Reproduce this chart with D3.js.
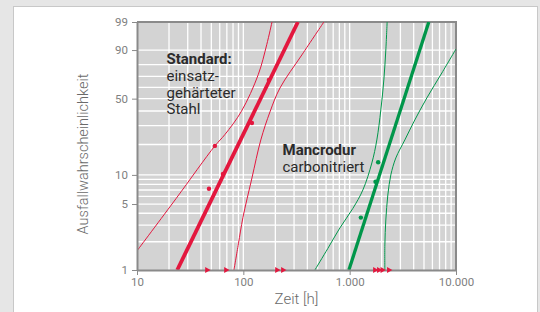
<!DOCTYPE html>
<html>
<head>
<meta charset="utf-8">
<script src="https://cdn.jsdelivr.net/npm/d3@7"></script>
<style>
  body { margin: 0; background: #e6e6e6; }
  svg { display: block; }
  text { font-family: Roboto, sans-serif; }
</style>
</head>
<body>
<svg id="chart" width="540" height="312"></svg>
<script>
// ticks: time in hours, failure probability in percent
const xTicks = [10, 100, 1000, 10000];
const xTickLabels = ['10', '100', '1.000', '10.000'];
const yTicks = [1, 5, 10, 50, 90, 99];
const yGrid = [2, 3, 4, 5, 6, 7, 8, 9, 10, 20, 30, 40, 50, 60, 70, 80, 90];

// standard, einsatzgehaerteter stahl  [hours, percent]
const stdFailures = [[47.5, 7.2], [54, 19.4], [64.3, 10.2], [120.5, 31.6], [174, 66.7]];
const stdFit = [[23.9, 1], [326, 99]];
const stdBoundLeft = [[10, 1.6], [23.3, 5.7], [54, 19.4], [67, 24.8], [96, 39.8], [138, 71.4], [166, 92.8], [186, 99]];
const stdBoundRight = [[81.6, 1], [89.9, 1.9], [99.1, 3.6], [120.5, 9.3], [146, 22.1], [178, 39.3], [221, 59.4], [355, 87], [572, 99]];
const stdSuspended = [45.5, 68.6, 207, 235.6];

// mancrodur, carbonitriert
const manFailures = [[1274, 3.6], [1750, 8.5], [1853, 13.4]];
const manFit = [[983, 1], [5549, 99]];
const manBoundLeft = [[471, 1], [624, 1.7], [809, 2.8], [1072, 4.5], [1331, 7], [1617, 13.2], [1801, 22.1], [1964, 40.8], [2096, 66.7], [2188, 90], [2251, 99]];
const manBoundRight = [[2143, 1], [2143, 1.85], [2188, 3.4], [2285, 6.2], [2439, 10], [2718, 14.8], [3302, 22.1], [4100, 33.6], [5317, 50.6], [7357, 72.9], [10000, 90.6]];
const manSuspended = [1726, 1880, 2029, 2335];

const red = '#e3173e',
      green = '#00964a',
      frame = '#8a8a8a';

const svg = d3.select('#chart');

// white panel
svg.append('rect')
  .attr('x', 13.5).attr('y', 6.5)
  .attr('width', 524).attr('height', 320)
  .attr('fill', '#fff')
  .attr('stroke', '#c8c8c8');

const pLeft = 137, pRight = 456, pTop = 22, pBottom = 270;

// weibull probability scale
const weib = p => Math.log(-Math.log(1 - p / 100));
const x = d3.scaleLog().domain([10, 10000]).range([pLeft, pRight]);
const y = d3.scaleLinear().domain([weib(1), weib(99)]).range([pBottom, pTop]);
const yp = p => y(weib(p));

svg.append('rect')
  .attr('x', pLeft).attr('y', pTop)
  .attr('width', pRight - pLeft).attr('height', pBottom - pTop)
  .attr('fill', '#d3d3d3');

// grid
const xGrid = [];
[10, 100, 1000].forEach(dec => {
  for (let k = 2; k <= 9; k++) xGrid.push(k * dec);
});
xGrid.push(100, 1000);

const grid = svg.append('g').attr('stroke', '#fff').attr('stroke-width', 1.3);
grid.selectAll('.vg').data(xGrid).enter().append('line')
  .attr('x1', d => x(d)).attr('x2', d => x(d))
  .attr('y1', pTop).attr('y2', pBottom);
grid.selectAll('.hg').data(yGrid).enter().append('line')
  .attr('x1', pLeft).attr('x2', pRight)
  .attr('y1', d => yp(d)).attr('y2', d => yp(d));

// top and right frame
svg.append('path')
  .attr('d', `M${pLeft},${pTop}H${pRight}V${pBottom}`)
  .attr('fill', 'none')
  .attr('stroke', frame)
  .attr('stroke-width', 2);

// curves
const line = d3.line()
  .x(d => x(d[0]))
  .y(d => yp(d[1]))
  .curve(d3.curveCatmullRom.alpha(0.5));

const plot = svg.append('g');
plot.append('clipPath').attr('id', 'clip')
  .append('rect').attr('x', pLeft).attr('y', pTop)
  .attr('width', pRight - pLeft).attr('height', pBottom - pTop);

function drawSeries(color, width, fit, bounds, failures) {
  const g = plot.append('g').attr('clip-path', 'url(#clip)');
  bounds.forEach(b => {
    g.append('path').datum(b)
      .attr('d', line)
      .attr('fill', 'none')
      .attr('stroke', color)
      .attr('stroke-width', 1);
  });
  g.append('path').datum(fit)
    .attr('d', line)
    .attr('fill', 'none')
    .attr('stroke', color)
    .attr('stroke-width', width);
  g.selectAll('circle').data(failures).enter().append('circle')
    .attr('cx', d => x(d[0]))
    .attr('cy', d => yp(d[1]))
    .attr('r', 2.2)
    .attr('fill', color);
}

drawSeries(red, 3.8, stdFit, [stdBoundLeft, stdBoundRight], stdFailures);
drawSeries(green, 3.3, manFit, [manBoundLeft, manBoundRight], manFailures);

// axes
const yAxis = d3.axisLeft(y)
  .tickValues(yTicks.map(weib))
  .tickFormat((d, i) => yTicks[i])
  .tickSize(5)
  .tickSizeOuter(0)
  .tickPadding(4);
const xAxis = d3.axisBottom(x)
  .tickValues(xTicks)
  .tickFormat((d, i) => xTickLabels[i])
  .tickSize(5)
  .tickSizeOuter(0)
  .tickPadding(3);

const ya = svg.append('g').attr('transform', `translate(${pLeft},0)`).call(yAxis);
const xa = svg.append('g').attr('transform', `translate(0,${pBottom})`).call(xAxis);
[ya, xa].forEach(a => {
  a.select('.domain').attr('stroke', frame).attr('stroke-width', 2);
  a.selectAll('.tick line').attr('stroke', frame);
  a.selectAll('.tick text')
    .attr('fill', '#808080')
    .style('font-family', 'Roboto, sans-serif')
    .style('font-size', '11.5px');
});

// suspended items on the time axis
const tri = d3.symbol().type(d3.symbolTriangle).size(16);
svg.append('g').selectAll('path')
  .data(stdSuspended.concat(manSuspended))
  .enter().append('path')
  .attr('d', tri)
  .attr('transform', d => `translate(${x(d)},${pBottom}) rotate(90)`)
  .attr('fill', red);

// annotations
const note = (lines, x0, y0) => {
  lines.forEach((t, i) => {
    svg.append('text')
      .attr('x', x0)
      .attr('y', y0 + i * 16.8)
      .attr('fill', '#2b2b2b')
      .style('font-size', '15px')
      .style('font-weight', i === 0 ? 'bold' : 'normal')
      .text(t);
  });
};
note(['Standard:', 'einsatz-', 'gehärteter', 'Stahl'], 166.5, 64);
note(['Mancrodur', 'carbonitriert'], 282.5, 155);

// axis titles
svg.append('text')
  .attr('transform', 'translate(88,154) rotate(-90)')
  .attr('text-anchor', 'middle')
  .attr('fill', '#6a6a6a')
  .style('font-size', '14.5px')
  .style('font-weight', 300)
  .text('Ausfallwahrscheinlichkeit');

svg.append('text')
  .attr('x', (pLeft + pRight) / 2)
  .attr('y', 304)
  .attr('text-anchor', 'middle')
  .attr('fill', '#6a6a6a')
  .style('font-size', '15px')
  .style('font-weight', 300)
  .text('Zeit [h]');
</script>
</body>
</html>
